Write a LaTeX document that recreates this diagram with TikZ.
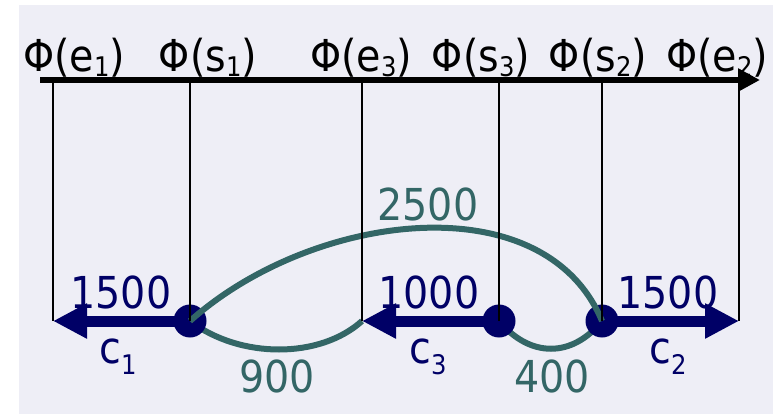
\documentclass[tikz,border=0pt]{standalone}
\usepackage{fontspec}
\setmainfont{DejaVu Sans Condensed}
\usetikzlibrary{arrows.meta}
\definecolor{cnavy}{HTML}{000066}
\definecolor{cgreen}{HTML}{336666}
\definecolor{cback}{HTML}{EEEEF6}
\newcommand{\low}[2][-5pt]{\raisebox{#1}{\fontsize{27}{27}\selectfont #2}}

\begin{document}
\begin{tikzpicture}[x=1pt,y=-1pt,>=stealth,font=\fontsize{44}{44}\selectfont,
  tick/.style={line width=1.4pt},
  interval/.style={cnavy,line width=11pt,-{Triangle[length=34pt,width=33pt]}},
  overlap/.style={cgreen,line width=6pt},
  dot/.style={circle,fill=cnavy,inner sep=0pt,minimum size=33pt}]
  \useasboundingbox (0,0) rectangle (781,414);
  \fill[cback] (19,5) rectangle (773,414);
  % axis
  \coordinate (a0) at (40,80);
  \coordinate (a1) at (760,80);
  \draw[line width=5.5pt,-{Triangle[length=22pt,width=22pt]}] (a0) -- (a1);
  \node[anchor=base] (pe1) at (74,72) {Φ(e\low{1})};
  \node[anchor=base] (ps1) at (208,72) {Φ(s\low{1})};
  \node[anchor=base] (pe3) at (361,72) {Φ(e\low{3})};
  \node[anchor=base] (ps3) at (481,72) {Φ(s\low{3})};
  \node[anchor=base] (ps2) at (598,72) {Φ(s\low{2})};
  \node[anchor=base] (pe2) at (717,72) {Φ(e\low{2})};
  % interval ends
  \coordinate (e1) at (53,321);
  \coordinate (e3) at (362,321);
  \coordinate (e2) at (739,321);
  \coordinate (s1) at (190,321);
  \coordinate (s3) at (499,321);
  \coordinate (s2) at (602,321);
  % lower overlaps
  \draw[overlap] (s1) .. controls (240,359) and (320,359) .. (e3);
  \draw[overlap] (s3) .. controls (530,358) and (572,358) .. (s2);
  % intervals
  \draw[interval] (s1) -- (e1);
  \draw[interval] (s3) -- (e3);
  \draw[interval] (s2) -- (e2);
  \node[dot] (d1) at (s1) {};
  \node[dot] (d3) at (s3) {};
  \node[dot] (d2) at (s2) {};
  % upper overlap
  \draw[overlap] (d1.center) .. controls (312,212) and (544,182) .. (d2.center);
  % ticks
  \foreach \p in {e1,s1,e3,s3,s2,e2}
    \draw[tick] (\p |- a0) -- (\p);
  % labels
  \node[anchor=base,text=cnavy] (w1) at (121,308) {1500};
  \node[anchor=base,text=cnavy] (w3) at (429,308) {1000};
  \node[anchor=base,text=cnavy] (w2) at (668,308) {1500};
  \node[anchor=base,text=cnavy] (c1) at (118,363) {c\low[-11pt]{1}};
  \node[anchor=base,text=cnavy] (c3) at (428,363) {c\low[-11pt]{3}};
  \node[anchor=base,text=cnavy] (c2) at (668,363) {c\low[-11pt]{2}};
  \node[anchor=base,text=cgreen] (o13) at (428,220) {2500};
  \node[anchor=base,text=cgreen] (o1e) at (277,392) {900};
  \node[anchor=base,text=cgreen] (o32) at (552,392) {400};
\end{tikzpicture}
\end{document}
